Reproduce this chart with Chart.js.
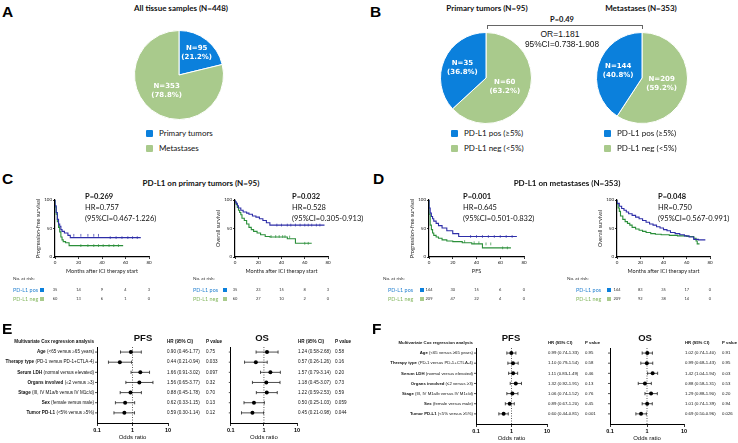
<!DOCTYPE html>
<html>
<head>
<meta charset="utf-8">
<script src="https://cdn.jsdelivr.net/npm/chart.js@4.4.1/dist/chart.umd.min.js"></script>
<style>
  body { margin: 0; background: #fff; }
  #page { position: relative; width: 738px; height: 443px; overflow: hidden; font-family: Lato, sans-serif; color: #111; }
  .t { position: absolute; white-space: nowrap; line-height: 1; }
  .sq { position: absolute; width: 7px; height: 7px; border-radius: 1px; }
</style>
</head>
<body>
<div id="page"></div>
<script>
// ============================
// DATA
// ============================

const tissueLabels = ['Primary tumors', 'Metastases'];
const tissueCounts = [95, 353];
const pdl1Labels = ['PD-L1 neg (<5%)', 'PD-L1 pos (≥5%)'];
const primaryCounts = [60, 35];
const metastasisCounts = [209, 144];

// Kaplan-Meier curves (months, % surviving)
const cPfsPosT = [0, 1, 2, 3, 4, 5, 6, 8, 11, 13, 40, 73];
const cPfsPosS = [100, 90, 78, 66, 58, 54, 48, 45, 42, 38, 34, 34];
const cPfsNegT = [0, 1, 2, 3, 4, 5, 6, 7, 9, 12, 17, 58];
const cPfsNegS = [100, 88, 75, 62, 52, 44, 35, 30, 27, 25, 20, 20];
const cOsPosT = [0, 1, 2, 3, 5, 7, 10, 12, 15, 18, 21, 24, 27, 30, 33, 77];
const cOsPosS = [100, 97, 94, 90, 86, 82, 79, 77, 75, 72, 70, 67, 64, 60, 56, 56];
const cOsNegT = [0, 1, 2, 3, 4, 5, 6, 8, 10, 12, 14, 16, 19, 22, 26, 30, 45, 52, 56, 66];
const cOsNegS = [100, 96, 92, 87, 82, 78, 74, 68, 64, 58, 52, 48, 45, 42, 39, 36, 35, 32, 24, 24];
const dPfsPosT = [0, 1, 2, 3, 4, 6, 8, 11, 15, 20, 25, 30, 74];
const dPfsPosS = [100, 86, 77, 71, 67, 63, 59, 55, 51, 46, 41, 36, 36];
const dPfsNegT = [0, 1, 2, 3, 4, 6, 8, 11, 15, 20, 28, 36, 45, 57, 69];
const dPfsNegS = [100, 75, 56, 48, 42, 38, 35, 33, 30, 28, 27, 25, 23, 16, 16];
const dOsPosT = [0, 2, 4, 6, 8, 10, 13, 16, 19, 22, 25, 28, 31, 34, 37, 40, 43, 46, 50, 54, 58, 62, 66, 70, 76];
const dOsPosS = [100, 94, 89, 85, 82, 79, 76, 73, 70, 67, 64, 61, 58, 56, 53, 51, 48, 46, 43, 41, 39, 37, 35, 31, 30];
const dOsNegT = [0, 1, 2, 3, 5, 7, 9, 11, 13, 16, 19, 22, 25, 29, 33, 38, 45, 52, 60, 66, 68, 69, 71];
const dOsNegS = [100, 93, 86, 80, 72, 66, 62, 59, 56, 52, 49, 47, 45, 43, 41, 40, 39, 38, 37, 36, 33, 28, 23];

// censored observations
const cPfsPosCt = [16, 22, 28, 33, 37, 47, 52, 57, 62, 66, 70];
const cPfsPosCs = [38, 38, 38, 38, 38, 34, 34, 34, 34, 34, 34];
const cPfsNegCt = [22, 28, 33, 37, 41, 46, 50, 54];
const cPfsNegCs = [20, 20, 20, 20, 20, 20, 20, 20];
const cOsPosCt = [36, 40, 45, 48, 52, 56, 60, 63, 66, 70, 73];
const cOsPosCs = [56, 56, 56, 56, 56, 56, 56, 56, 56, 56, 56];
const cOsNegCt = [31, 35, 38, 41, 43, 47, 60, 63];
const cOsNegCs = [36, 36, 36, 36, 36, 35, 24, 24];
const dPfsPosCt = [35, 40, 45, 50, 55, 60, 65, 70];
const dPfsPosCs = [36, 36, 36, 36, 36, 36, 36, 36];
const dPfsNegCt = [30, 38, 42, 48, 52, 62, 66];
const dPfsNegCs = [27, 25, 25, 23, 23, 16, 16];

const kmTicks = [0, 20, 40, 60, 80];
const riskCPfsPos = [35, 14, 9, 4, 3];
const riskCPfsNeg = [60, 13, 6, 1, 0];
const riskCOsPos = [35, 23, 15, 8, 3];
const riskCOsNeg = [60, 27, 10, 2, 0];
const riskDPfsPos = [144, 30, 15, 6, 0];
const riskDPfsNeg = [209, 47, 22, 4, 0];
const riskDOsPos = [144, 83, 35, 17, 0];
const riskDOsNeg = [209, 92, 38, 14, 0];

const kmStatsCPfs = ['P=0.269', 'HR=0.757', '(95%CI=0.467-1.226)'];
const kmStatsCOs = ['P=0.032', 'HR=0.528', '(95%CI=0.305-0.913)'];
const kmStatsDPfs = ['P=0.001', 'HR=0.645', '(95%CI=0.501-0.832)'];
const kmStatsDOs = ['P=0.048', 'HR=0.750', '(95%CI=0.567-0.991)'];

// Multivariate Cox regression
const factorNames = ['Age', 'Therapy type', 'Serum LDH', 'Organs involved', 'Stage', 'Sex', 'Tumor PD-L1'];
const factorDetails = ['(<65 versus ≥65 years)', '(PD-1 versus PD-1+CTLA-4)', '(normal versus elevated)',
  '(≤2 versus ≥3)', '(III, IV M1a/b versus IV M1c/d)', '(female versus male)', '(<5% versus ≥5%)'];
const oddsTicks = [0.1, 1, 10];

const ePfsHr = [0.90, 0.44, 1.66, 1.56, 0.88, 0.62, 0.59];
const ePfsLo = [0.46, 0.21, 0.91, 0.65, 0.45, 0.33, 0.30];
const ePfsHi = [1.77, 0.94, 3.02, 3.77, 1.78, 1.15, 1.14];
const ePfsP = ['0.75', '0.033', '0.097', '0.32', '0.70', '0.13', '0.12'];

const eOsHr = [1.24, 0.57, 1.57, 1.18, 1.22, 0.50, 0.45];
const eOsLo = [0.58, 0.26, 0.79, 0.45, 0.59, 0.25, 0.21];
const eOsHi = [2.68, 1.26, 3.14, 3.07, 2.53, 1.03, 0.98];
const eOsP = ['0.58', '0.16', '0.20', '0.73', '0.59', '0.059', '0.044'];

const fPfsHr = [0.99, 1.10, 1.11, 1.32, 1.06, 0.89, 0.60];
const fPfsLo = [0.74, 0.79, 0.83, 0.92, 0.74, 0.67, 0.44];
const fPfsHi = [1.33, 1.54, 1.49, 1.91, 1.52, 1.20, 0.81];
const fPfsP = ['0.95', '0.58', '0.46', '0.13', '0.76', '0.45', '0.001'];

const fOsHr = [1.02, 0.99, 1.42, 0.88, 1.29, 1.01, 0.69];
const fOsLo = [0.74, 0.68, 1.04, 0.58, 0.88, 0.74, 0.50];
const fOsHi = [1.40, 1.43, 1.94, 1.31, 1.90, 1.39, 0.96];
const fOsP = ['0.91', '0.95', '0.03', '0.53', '0.20', '0.94', '0.026'];


// ============================
// HELPERS
// ============================

const blue = '#0b80dc';
const green = '#a9ca8c';
const kmBlue = '#2e2ea8';
const kmGreen = '#2b8f3a';
const arial = '"Liberation Sans", Arial, sans-serif';

Chart.defaults.font.family = 'Lato, sans-serif';
Chart.defaults.color = '#111';

const page = document.getElementById('page');

function txt(s, x, y, size, o = {}) {
    const d = document.createElement('div');
    d.className = 't';
    d.textContent = s;
    d.style.left = x + 'px';
    d.style.top = y + 'px';
    d.style.fontSize = size + 'px';
    d.style.fontWeight = o.bold ? '700' : '400';
    if (o.font) d.style.fontFamily = o.font;
    if (o.color) d.style.color = o.color;
    const ax = o.align === 'c' ? '-50%' : (o.align === 'r' ? '-100%' : '0');
    d.style.transform = `translate(${ax},-50%)`;
    page.appendChild(d);
}

function square(x, y, color) {
    const d = document.createElement('div');
    d.className = 'sq';
    d.style.left = x + 'px';
    d.style.top = (y - 3.5) + 'px';
    d.style.background = color;
    page.appendChild(d);
}

function makeCanvas(x, y, w, h) {
    const d = document.createElement('div');
    d.style.cssText = `position:absolute;left:${x}px;top:${y}px;width:${w}px;height:${h}px`;
    const c = document.createElement('canvas');
    d.appendChild(c);
    page.appendChild(d);
    return c;
}


// ============================
// PIES (A, B)
// ============================

const pieLabels = {
    id: 'pieLabels',
    afterDatasetsDraw(chart) {
        const ctx = chart.ctx;
        const values = chart.data.datasets[0].data;
        const total = values.reduce((a, b) => a + b, 0);
        chart.getDatasetMeta(0).data.forEach((arc, i) => {
            const share = values[i] / total;
            const f = share < 0.5 ? 0.75 - share * 0.5 : 0.45;
            const mid = (arc.startAngle + arc.endAngle) / 2;
            const x = arc.x + Math.cos(mid) * arc.outerRadius * f;
            const y = arc.y + Math.sin(mid) * arc.outerRadius * f;
            ctx.save();
            ctx.fillStyle = '#fff';
            ctx.font = 'bold 7px "DejaVu Sans"';
            ctx.textAlign = 'center';
            ctx.textBaseline = 'middle';
            ctx.fillText('N=' + values[i], x, y - 4.5);
            ctx.fillText('(' + (share * 100).toFixed(1) + '%)', x, y + 4.5);
            ctx.restore();
        });
    }
};

function pie(cx, cy, r, labels, values, colors) {
    const c = makeCanvas(cx - r, cy - r, 2 * r, 2 * r);
    new Chart(c, {
        type: 'pie',
        data: {
            labels: labels,
            datasets: [{ data: values, backgroundColor: colors, borderColor: '#fff', borderWidth: 1 }]
        },
        options: {
            responsive: true,
            maintainAspectRatio: false,
            animation: false,
            events: [],
            layout: { padding: 0 },
            plugins: { legend: { display: false }, tooltip: { enabled: false } }
        },
        plugins: [pieLabels]
    });
}

pie(179, 75, 45, tissueLabels, tissueCounts, [blue, green]);
pie(486, 78, 46, pdl1Labels, primaryCounts, [green, blue]);
pie(642, 78, 46, pdl1Labels, metastasisCounts, [green, blue]);


// ============================
// KAPLAN-MEIER (C, D)
// ============================

const riskPlugin = {
    id: 'risk',
    afterDraw(chart, args, o) {
        const { ctx, chartArea: a } = chart;
        const xs = chart.scales.x;
        ctx.save();
        ctx.textBaseline = 'middle';
        ctx.textAlign = 'left';
        ctx.fillStyle = '#333';
        ctx.font = '4.6px Lato';
        ctx.fillText('No. at risk:', o.noX, a.bottom + 22);
        o.rows.forEach((r, k) => {
            const py = a.bottom + 33 + k * 9;
            ctx.textAlign = 'left';
            ctx.fillStyle = r.text;
            ctx.font = '5.4px Lato';
            ctx.fillText(r.label, o.labelX, py);
            ctx.fillStyle = r.box;
            ctx.fillRect(o.boxX, py - 2, 4, 4);
            ctx.fillStyle = '#333';
            ctx.font = '4px Lato';
            ctx.textAlign = 'center';
            r.values.forEach((v, i) => ctx.fillText(String(v), xs.getPixelForValue(kmTicks[i]), py));
        });
        ctx.restore();
    }
};

function km(b, a, curves, risk, yTitle, xTitle) {
    const c = makeCanvas(b.x, b.y, b.w, b.h);
    const datasets = [];
    curves.forEach(cv => {
        datasets.push({
            data: cv.t.map((t, i) => ({ x: t, y: cv.s[i] })),
            showLine: true, stepped: 'after', borderColor: cv.color, borderWidth: 1.1, pointRadius: 0
        });
        if (cv.ct) {
            datasets.push({
                data: cv.ct.map((t, i) => ({ x: t, y: cv.cs[i] })),
                showLine: false, pointStyle: 'line', rotation: 90, pointRadius: 1.4,
                borderColor: cv.color, borderWidth: 0.7
            });
        }
    });
    new Chart(c, {
        type: 'scatter',
        data: { datasets },
        options: {
            responsive: true,
            maintainAspectRatio: false,
            animation: false,
            events: [],
            layout: { padding: { left: a.l - b.x - 20, right: b.x + b.w - a.r, top: a.t - b.y, bottom: b.y + b.h - a.b - 18 } },
            scales: {
                x: {
                    type: 'linear', min: 0, max: 80,
                    afterFit(s) { s.height = 18; },
                    ticks: { stepSize: 20, font: { size: 4.5 }, color: '#222', padding: 1, maxRotation: 0 },
                    grid: { drawOnChartArea: false, tickLength: 2, color: '#000', lineWidth: 0.8 },
                    border: { color: '#000', width: 1.2 },
                    title: { display: true, text: xTitle, font: { size: 5.5 }, color: '#222', padding: 0 }
                },
                y: {
                    min: 0, max: 100,
                    afterFit(s) { s.width = 20; },
                    ticks: { stepSize: 50, font: { size: 4.5 }, color: '#222', padding: 1 },
                    grid: { drawOnChartArea: false, tickLength: 2, color: '#000', lineWidth: 0.8 },
                    border: { color: '#000', width: 1.2 },
                    title: { display: true, text: yTitle, font: { size: 5.5 }, color: '#222', padding: 0 }
                }
            },
            plugins: { legend: { display: false }, tooltip: { enabled: false }, risk: risk }
        },
        plugins: [riskPlugin]
    });
}

function riskRows(pos, neg) {
    return [
        { label: 'PD-L1 pos', text: '#2a84d2', box: blue, values: pos },
        { label: 'PD-L1 neg', text: '#86b862', box: green, values: neg }
    ];
}

km({ x: 0, y: 188, w: 180, h: 118 }, { l: 55, t: 200, r: 149, b: 257 },
    [{ t: cPfsPosT, s: cPfsPosS, ct: cPfsPosCt, cs: cPfsPosCs, color: kmBlue },
     { t: cPfsNegT, s: cPfsNegS, ct: cPfsNegCt, cs: cPfsNegCs, color: kmGreen }],
    { noX: 13, labelX: 13, boxX: 40, rows: riskRows(riskCPfsPos, riskCPfsNeg) },
    'Progression-free survival', 'Months after ICI therapy start');

km({ x: 180, y: 188, w: 190, h: 118 }, { l: 235, t: 200, r: 328, b: 257 },
    [{ t: cOsPosT, s: cOsPosS, ct: cOsPosCt, cs: cOsPosCs, color: kmBlue },
     { t: cOsNegT, s: cOsNegS, ct: cOsNegCt, cs: cOsNegCs, color: kmGreen }],
    { noX: 13, labelX: 13, boxX: 43, rows: riskRows(riskCOsPos, riskCOsNeg) },
    'Overall survival', 'Months after ICI therapy start');

km({ x: 370, y: 188, w: 190, h: 118 }, { l: 429, t: 200, r: 524, b: 257 },
    [{ t: dPfsPosT, s: dPfsPosS, ct: dPfsPosCt, cs: dPfsPosCs, color: kmBlue },
     { t: dPfsNegT, s: dPfsNegS, ct: dPfsNegCt, cs: dPfsNegCs, color: kmGreen }],
    { noX: 13, labelX: 18, boxX: 50, rows: riskRows(riskDPfsPos, riskDPfsNeg) },
    'Progression-free survival', 'PFS');

km({ x: 560, y: 188, w: 178, h: 118 }, { l: 617, t: 200, r: 710, b: 257 },
    [{ t: dOsPosT, s: dOsPosS, color: kmBlue },
     { t: dOsNegT, s: dOsNegS, color: kmGreen }],
    { noX: 7, labelX: 16, boxX: 47, rows: riskRows(riskDOsPos, riskDOsNeg) },
    'Overall survival', 'Months after ICI therapy start');


// ============================
// FOREST PLOTS (E, F)
// ============================

const forestPlugin = {
    id: 'forest',
    beforeDatasetsDraw(chart, args, o) {
        const { ctx, chartArea: a, scales: { x, y } } = chart;
        ctx.save();
        const x1 = x.getPixelForValue(1);
        ctx.strokeStyle = '#333';
        ctx.lineWidth = 0.8;
        ctx.setLineDash([1, 1.5]);
        ctx.beginPath();
        ctx.moveTo(x1, a.top);
        ctx.lineTo(x1, a.bottom);
        ctx.stroke();
        ctx.setLineDash([]);
        ctx.strokeStyle = '#222';
        o.lo.forEach((lo, i) => {
            const py = y.getPixelForValue(i);
            const xl = x.getPixelForValue(lo);
            const xh = x.getPixelForValue(o.hi[i]);
            ctx.beginPath();
            ctx.moveTo(xl, py); ctx.lineTo(xh, py);
            ctx.moveTo(xl, py - 1.6); ctx.lineTo(xl, py + 1.6);
            ctx.moveTo(xh, py - 1.6); ctx.lineTo(xh, py + 1.6);
            ctx.moveTo(a.left - 2, py); ctx.lineTo(a.left, py);
            ctx.stroke();
        });
        ctx.restore();
    },
    afterDraw(chart, args, o) {
        const { ctx, chartArea: a, scales: { y } } = chart;
        const fs = o.fs;
        ctx.save();
        ctx.textBaseline = 'middle';
        ctx.fillStyle = '#111';
        const hy = y.getPixelForValue(-1);
        if (o.names) {
            const rx = a.left - 3;
            ctx.textAlign = 'right';
            ctx.font = `bold ${fs}px ${arial}`;
            ctx.fillText('Multivariate Cox regression analysis', rx, hy);
            o.names.forEach((n, i) => {
                const py = y.getPixelForValue(i);
                const d = ' ' + o.details[i];
                ctx.font = `${fs}px ${arial}`;
                ctx.fillText(d, rx, py);
                const w = ctx.measureText(d).width;
                ctx.font = `bold ${fs}px ${arial}`;
                ctx.fillText(n, rx - w, py);
            });
        }
        const hx = a.right + o.hrDx;
        const px = a.right + 38;
        ctx.textAlign = 'left';
        ctx.font = `bold ${fs}px ${arial}`;
        ctx.fillText('HR (95% CI)', hx, hy);
        ctx.fillText('P value', px, hy);
        ctx.font = `${fs}px ${arial}`;
        o.hr.forEach((v, i) => {
            const py = y.getPixelForValue(i);
            ctx.fillText(`${v.toFixed(2)} (${o.lo[i].toFixed(2)}-${o.hi[i].toFixed(2)})`, hx, py);
            ctx.fillText(o.p[i], px, py);
        });
        ctx.restore();
    }
};

function forest(b, a, hr, lo, hi, p, names, hrDx, fs) {
    const c = makeCanvas(b.x, b.y, b.w, b.h);
    new Chart(c, {
        type: 'scatter',
        data: {
            datasets: [{
                data: hr.map((v, i) => ({ x: v, y: i })),
                pointRadius: 2, pointBackgroundColor: '#000', pointBorderColor: '#000', pointBorderWidth: 0
            }]
        },
        options: {
            responsive: true,
            maintainAspectRatio: false,
            animation: false,
            events: [],
            layout: { padding: { left: a.l - b.x, right: b.x + b.w - a.r, top: a.t - b.y, bottom: b.y + b.h - a.b - 18 } },
            scales: {
                x: {
                    type: 'logarithmic', min: 0.1, max: 10,
                    afterFit(s) { s.height = 18; },
                    afterBuildTicks(s) { s.ticks = oddsTicks.map(v => ({ value: v })); },
                    ticks: { callback: v => String(v), font: { size: 5.5, weight: 'bold', family: arial }, color: '#000', padding: 1, maxRotation: 0, autoSkip: false },
                    grid: { drawOnChartArea: false, tickLength: 3, color: '#000', lineWidth: 0.8 },
                    border: { color: '#000', width: 1 },
                    title: { display: true, text: 'Odds ratio', font: { size: 6, family: arial }, color: '#111', padding: 0 }
                },
                y: {
                    type: 'linear', reverse: true, min: -0.5, max: 7,
                    afterFit(s) { s.width = 0; },
                    ticks: { display: false },
                    grid: { display: false },
                    border: { color: '#000', width: 1 }
                }
            },
            plugins: {
                legend: { display: false },
                tooltip: { enabled: false },
                forest: { hr, lo, hi, p, names, details: factorDetails, hrDx, fs }
            }
        },
        plugins: [forestPlugin]
    });
}

forest({ x: 0, y: 334, w: 226, h: 109 }, { l: 97, t: 347, r: 168, b: 423 }, ePfsHr, ePfsLo, ePfsHi, ePfsP, factorNames, -1, 4.6);
forest({ x: 226, y: 334, w: 144, h: 109 }, { l: 228, t: 347, r: 297, b: 423 }, eOsHr, eOsLo, eOsHi, eOsP, null, 1, 4.6);
forest({ x: 370, y: 334, w: 230, h: 109 }, { l: 476, t: 348, r: 547, b: 424 }, fPfsHr, fPfsLo, fPfsHi, fPfsP, factorNames, 1, 4.3);
forest({ x: 600, y: 334, w: 138, h: 109 }, { l: 610, t: 348, r: 684, b: 424 }, fOsHr, fOsLo, fOsHi, fOsP, null, 1, 4.3);


// ============================
// TEXT, LEGENDS
// ============================

[['A', 2, 11.5], ['B', 370, 11.5], ['C', 2, 179], ['D', 373, 179], ['E', 2, 329], ['F', 372, 329]]
    .forEach(l => txt(l[0], l[1], l[2], 15.5, { bold: true, font: arial, color: '#000' }));

txt('All tissue samples (N=448)', 181, 8, 8, { bold: true, align: 'c' });
txt('Primary tumors (N=95)', 487, 8, 8, { bold: true, align: 'c' });
txt('Metastases (N=353)', 641, 8, 8, { bold: true, align: 'c' });

txt('P=0.49', 562, 20, 7.5, { bold: true, align: 'c' });
const bracket = document.createElement('div');
bracket.style.cssText = 'position:absolute;left:487px;top:25px;width:154px;height:3px;border:0.8px solid #666;border-bottom:none';
page.appendChild(bracket);
txt('OR=1.181', 560, 34, 8.5, { font: arial, align: 'c' });
txt('95%CI=0.738-1.908', 562, 44, 8.3, { font: arial, align: 'c' });

square(146, 133, blue); txt(tissueLabels[0], 159, 133, 8);
square(146, 148, green); txt(tissueLabels[1], 159, 148, 8);
square(451, 133, blue); txt(pdl1Labels[1], 464, 133, 8);
square(451, 148, green); txt(pdl1Labels[0], 464, 148, 8);
square(604, 133, blue); txt(pdl1Labels[1], 617, 133, 8);
square(604, 148, green); txt(pdl1Labels[0], 617, 148, 8);

txt('PD-L1 on primary tumors (N=95)', 201, 183, 8, { bold: true, align: 'c' });
txt('PD-L1 on metastases (N=353)', 567, 183, 8, { bold: true, align: 'c' });

[[kmStatsCPfs, 85], [kmStatsCOs, 292], [kmStatsDPfs, 463], [kmStatsDOs, 658]].forEach(([s, x]) => {
    txt(s[0], x, 197, 7.5, { bold: true });
    txt(s[1], x, 208, 7.5);
    txt(s[2], x, 219, 7.5);
});

txt('PFS', 143, 338, 9.5, { bold: true, font: arial, align: 'c' });
txt('OS', 262, 338, 9.5, { bold: true, font: arial, align: 'c' });
txt('PFS', 511, 338, 9.5, { bold: true, font: arial, align: 'c' });
txt('OS', 645, 338, 9.5, { bold: true, font: arial, align: 'c' });
</script>
</body>
</html>
